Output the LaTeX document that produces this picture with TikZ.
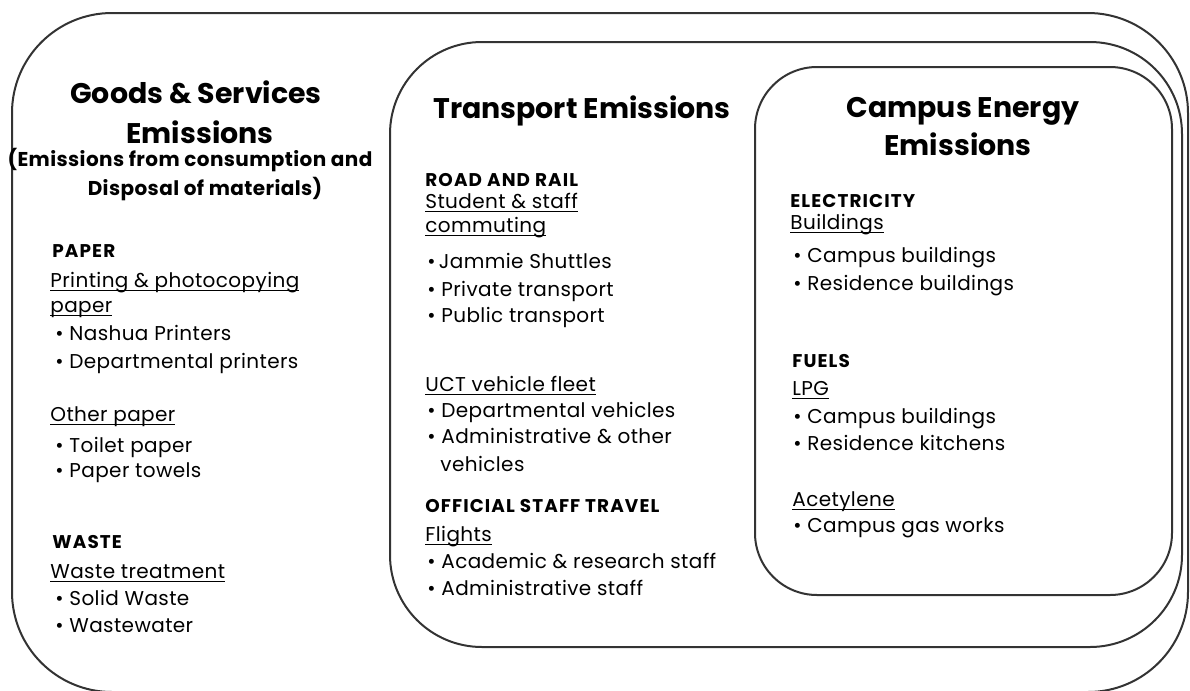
\documentclass[tikz,border=0pt]{standalone}
\usepackage{fontspec}
\setmainfont{Poppins}
\newfontfamily\spacedfont[LetterSpace=2]{Poppins}
\newfontfamily\headfont[LetterSpace=6]{Poppins}
\newcommand{\ulx}[1]{\setbox0\hbox{#1}\rlap{\box0}\setbox0\hbox{#1}\rule[-1.9pt]{\wd0}{0.65pt}}
\begin{document}
\begin{tikzpicture}[x=0.5pt,y=-0.5pt,
  box/.style={draw=black!80, line width=1pt},
  title/.style={anchor=base, font=\bfseries\fontsize{14.2}{16}\selectfont, inner sep=0pt},
  sub/.style={anchor=base, font=\spacedfont\bfseries\fontsize{10}{12}\selectfont, inner sep=0pt},
  head/.style={anchor=base west, font=\headfont\bfseries\fontsize{9.2}{11}\selectfont, inner sep=0pt},
  body/.style={anchor=base west, font=\spacedfont\fontsize{10}{12}\selectfont, inner sep=0pt},
]
\useasboundingbox (0,0) rectangle (1190,691);
\clip (0,0) rectangle (1190,691);
% boxes
\draw[box, rounded corners=50pt] (12,13) rectangle (1188,692);
\draw[box, rounded corners=46pt] (390,42) rectangle (1182,647);
\draw[box, rounded corners=31pt] (755,67) rectangle (1172,595);

% Goods & Services column
\node[title] (gt1) at (196,103) {Goods \& Services};
\node[title] (gt2) at (200,143) {Emissions};
\node[sub] (gs1) at (190,166) {(Emissions from consumption and};
\node[sub] (gs2) at (205,195) {Disposal of materials)};
\node[head] (gh1) at (52,257) {PAPER};
\node[body] (gu1) at (50,287) {\ulx{Printing \& photocopying}};
\node[body] (gu2) at (50,312) {\ulx{paper}};
\node[body] (gb1) at (55,340) {\textbullet\ Nashua Printers};
\node[body] (gb2) at (55,368) {\textbullet\ Departmental printers};
\node[body] (gu3) at (50,421) {\ulx{Other paper}};
\node[body] (gb3) at (55,452) {\textbullet\ Toilet paper};
\node[body] (gb4) at (55,477) {\textbullet\ Paper towels};
\node[head] (gh2) at (52,548) {WASTE};
\node[body] (gu4) at (50,578) {\ulx{Waste treatment}};
\node[body] (gb5) at (55,605) {\textbullet\ Solid Waste};
\node[body] (gb6) at (55,632) {\textbullet\ Wastewater};

% Transport column
\node[title] (tt1) at (582,118) {Transport Emissions};
\node[head] (th1) at (425,186) {ROAD AND RAIL};
\node[body] (tu1) at (425,208) {\ulx{Student \& staff}};
\node[body] (tu2) at (425,232) {\ulx{commuting}};
\node[body] (tb1) at (427,268) {\textbullet\,Jammie Shuttles};
\node[body] (tb2) at (427,296) {\textbullet\ Private transport};
\node[body] (tb3) at (427,322) {\textbullet\ Public transport};
\node[body] (tu3) at (425,391) {\ulx{UCT vehicle fleet}};
\node[body] (tb4) at (427,417) {\textbullet\ Departmental vehicles};
\node[body] (tb5) at (427,443) {\textbullet\ Administrative \& other};
\node[body] (tb6) at (440,471) {vehicles};
\node[head] (th2) at (425,512) {OFFICIAL STAFF TRAVEL};
\node[body] (tu4) at (425,541) {\ulx{Flights}};
\node[body] (tb7) at (427,568) {\textbullet\ Academic \& research staff};
\node[body] (tb8) at (427,595) {\textbullet\ Administrative staff};

% Campus energy column
\node[title] (ct1) at (963,117) {Campus Energy};
\node[title] (ct2) at (958,155) {Emissions};
\node[head] (ch1) at (790,207) {ELECTRICITY};
\node[body] (cu1) at (790,229) {\ulx{Buildings}};
\node[body] (cb1) at (793,262) {\textbullet\ Campus buildings};
\node[body] (cb2) at (793,290) {\textbullet\ Residence buildings};
\node[head] (ch2) at (792,367) {FUELS};
\node[body] (cu2) at (792,395) {\ulx{LPG}};
\node[body] (cb3) at (793,423) {\textbullet\ Campus buildings};
\node[body] (cb4) at (793,450) {\textbullet\ Residence kitchens};
\node[body] (cu3) at (792,506) {\ulx{Acetylene}};
\node[body] (cb5) at (793,532) {\textbullet\ Campus gas works};
\end{tikzpicture}
\end{document}
